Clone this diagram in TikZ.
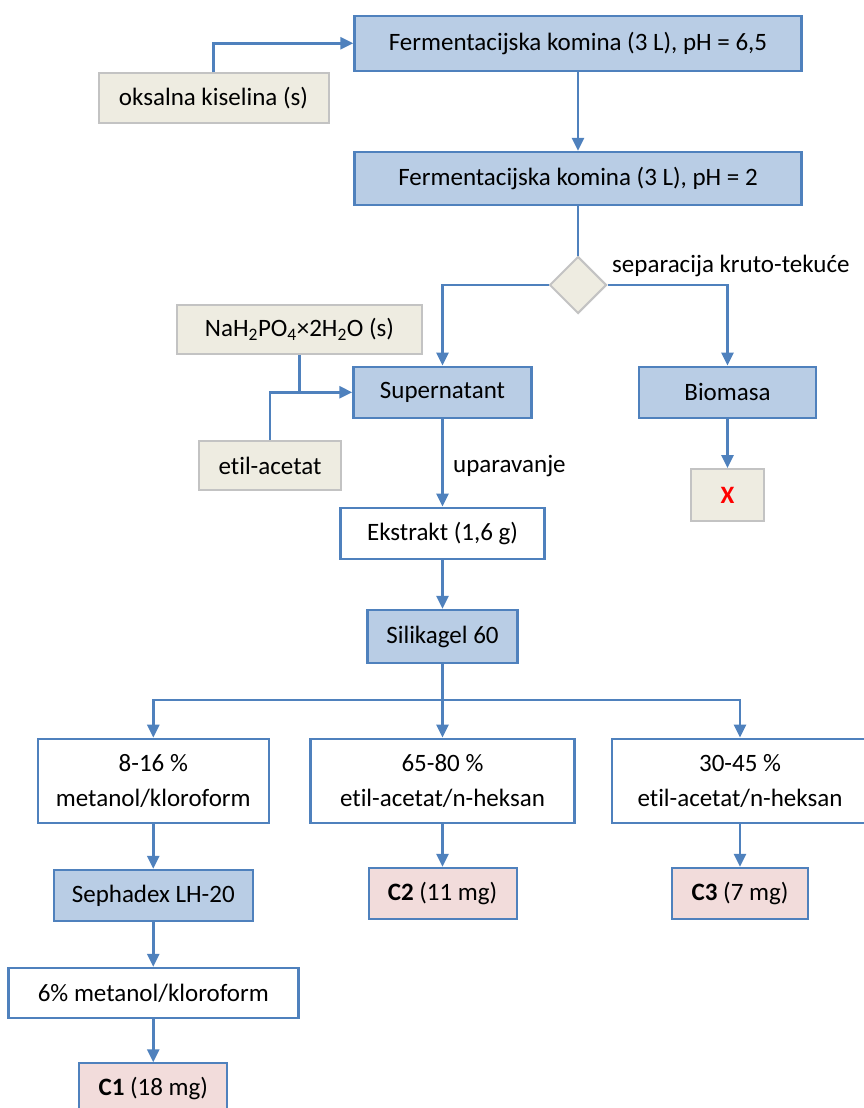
\documentclass[tikz,border=0pt]{standalone}
\usepackage{fontspec}
\setmainfont{Carlito}[Ligatures=NoCommon]
\usetikzlibrary{arrows.meta,shapes.geometric}
\definecolor{lineblue}{HTML}{4F81BD}
\definecolor{fillblue}{HTML}{B9CDE5}
\definecolor{fillbeige}{HTML}{EEECE1}
\definecolor{edgegrey}{HTML}{C3C3C3}
\definecolor{fillpink}{HTML}{F2DCDB}
\definecolor{redx}{HTML}{FF0000}

\begin{document}
\begin{tikzpicture}[x=1pt,y=-1pt,
  box/.style={rectangle, inner sep=0pt, align=center,
    font=\fontsize{25}{35}\selectfont},
  stage/.style={box, fill=fillblue, draw=lineblue, line width=2.4pt},
  reagent/.style={box, fill=fillbeige, draw=edgegrey, line width=2pt},
  eluent/.style={box, fill=white, draw=lineblue, line width=2.4pt},
  product/.style={box, fill=fillpink, draw=lineblue, line width=2pt},
  decision/.style={diamond, aspect=1, inner sep=0pt, fill=fillbeige,
    draw=edgegrey, line width=2pt},
  flow/.style={draw=lineblue, line width=2.7pt,
    -{Triangle[length=13pt,width=12pt]}},
  link/.style={draw=lineblue, line width=2.7pt},
  note/.style={anchor=west, inner sep=0pt, font=\fontsize{25}{30}\selectfont}
]
\useasboundingbox (0,0) rectangle (864,1108);
\clip (0,0) rectangle (864,1108);

% upper part: broth treatment
\node[stage, minimum width=447pt, minimum height=55pt] (f1) at (578,43.3)
  {Fermentacijska komina (3 L), pH = 6,5};
\node[reagent, minimum width=230pt, minimum height=50pt] (oks) at (213.5,98.3)
  {oksalna kiselina (s)};
\node[stage, minimum width=447pt, minimum height=53pt] (f2) at (578,178.5)
  {Fermentacijska komina (3 L), pH = 2};
\node[decision, minimum width=57pt, minimum height=57pt] (sep) at (578,285) {};
\node[note] (seplbl) at (612,266) {separacija kruto-tekuće};

% solid-liquid split
\node[reagent, minimum width=245pt, minimum height=49pt] (nah) at (299.5,329.5)
  {NaH\textsubscript{2}PO\textsubscript{4}×2H\textsubscript{2}O (s)};
\node[stage, minimum width=178pt, minimum height=51pt] (sup) at (442.5,392.3)
  {Supernatant};
\node[stage, minimum width=177pt, minimum height=51pt] (bio) at (727.5,392.3)
  {Biomasa};
\node[reagent, minimum width=142pt, minimum height=49pt] (etil) at (270,465.5)
  {etil-acetat};
\node[reagent, minimum width=73pt, minimum height=52pt] (xbox) at (727.5,495)
  {\textbf{\color{redx}X}};
\node[note] (upar) at (453,466) {uparavanje};
\node[eluent, minimum width=204pt, minimum height=51pt] (ekst) at (442.5,533.3)
  {Ekstrakt (1,6 g)};
\node[stage, minimum width=150pt, minimum height=53pt] (sil) at (442.5,636.6)
  {Silikagel 60};

% column fractions
\node[eluent, minimum width=231pt, minimum height=84pt] (e1) at (153.3,780.8)
  {8-16 \%\\metanol/kloroform};
\node[eluent, minimum width=264pt, minimum height=84pt] (e2) at (442.5,780.8)
  {65-80 \%\\etil-acetat/n-heksan};
\node[eluent, minimum width=256pt, minimum height=84pt] (e3) at (740,780.8)
  {30-45 \%\\etil-acetat/n-heksan};
\node[stage, minimum width=199pt, minimum height=51pt] (seph) at (153.3,895.5)
  {Sephadex LH-20};
\node[product, minimum width=148pt, minimum height=51pt] (c2) at (442.5,893.3)
  {\textbf{C2} (11 mg)};
\node[product, minimum width=136pt, minimum height=51pt] (c3) at (740,893.3)
  {\textbf{C3} (7 mg)};
\node[eluent, minimum width=290pt, minimum height=50pt] (e6) at (153.3,993)
  {6\% metanol/kloroform};
\node[product, minimum width=148pt, minimum height=50pt] (c1) at (153.3,1088.3)
  {\textbf{C1} (18 mg)};

% connectors
\draw[flow] (oks.north) |- (f1.west);
\draw[flow] (f1.south) -- (f2.north);
\draw[link] (f2.south) -- (sep.north);
\draw[flow] (sep.west) -| (sup.north);
\draw[flow] (sep.east) -| (bio.north);
\draw[link] (nah.south) -- (nah.south |- sup.west);
\draw[flow] (etil.north) |- (sup.west);
\draw[flow] (bio.south) -- (xbox.north);
\draw[flow] (sup.south) -- (ekst.north);
\draw[flow] (ekst.south) -- (sil.north);
\coordinate (split) at (442.5,700);
\draw[link] (sil.south) -- (split);
\draw[flow] (split) -| (e1.north);
\draw[flow] (split) -| (e3.north);
\draw[flow] (split) -- (e2.north);
\draw[flow] (e1.south) -- (seph.north);
\draw[flow] (seph.south) -- (e6.north);
\draw[flow] (e6.south) -- (c1.north);
\draw[flow] (e2.south) -- (c2.north);
\draw[flow] (e3.south) -- (c3.north);
\end{tikzpicture}
\end{document}
